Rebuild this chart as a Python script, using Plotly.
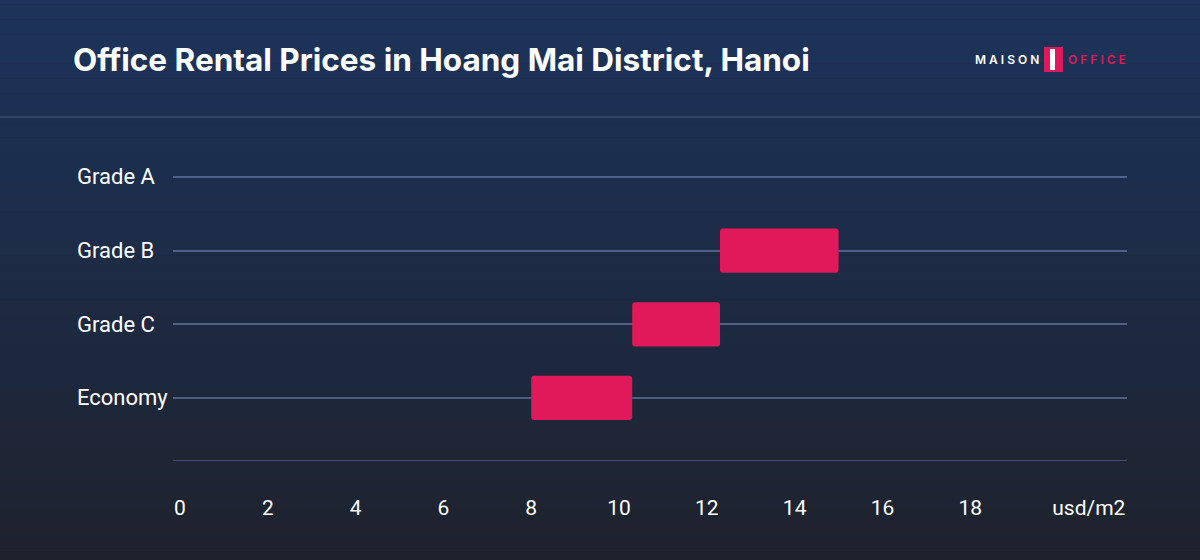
import plotly.graph_objects as go

categories = ["Economy", "Grade C", "Grade B", "Grade A"]
price_low = [8.0, 10.3, 12.3, None]
price_high = [10.3, 12.3, 15.0, None]
tick_vals = [0, 2, 4, 6, 8, 10, 12, 14, 16, 18, 20.7]
tick_text = ["0", "2", "4", "6", "8", "10", "12", "14", "16", "18", "usd/m2"]

W, H = 1200, 560
fig = go.Figure()
fig.add_trace(go.Bar(
    y=categories, base=[l if l is not None else 0 for l in price_low],
    x=[(h - l) if (h is not None and l is not None) else 0 for l, h in zip(price_low, price_high)],
    orientation="h", width=0.6, marker=dict(color="#e0195a", line=dict(width=0)),
    hoverinfo="skip"))

def px(x):
    return (x - 173) / 954.0

def py(y):
    return (461 - y) / 321.0

shapes = []
n = 40
top = (28, 52, 92); bot = (31, 34, 44)
for i in range(n):
    t = i / (n - 1)
    c = tuple(int(top[k] + (bot[k] - top[k]) * t) for k in range(3))
    shapes.append(dict(type="rect", xref="paper", yref="paper", layer="below",
                       x0=-0.3, x1=1.3, y0=py(-10 + (i + 1) * 590 / n), y1=py(-10 + i * 590 / n),
                       fillcolor="rgb(%d,%d,%d)" % c, line=dict(width=0)))
shapes.append(dict(type="line", xref="paper", yref="paper", x0=-0.3, x1=1.3,
                   y0=py(117), y1=py(117), line=dict(color="rgba(120,140,180,0.5)", width=1)))
shapes.append(dict(type="line", xref="paper", yref="y", x0=0, x1=1, y0=-0.855, y1=-0.855,
                   line=dict(color="rgba(120,140,190,0.55)", width=1.5)))
# logo mark
shapes.append(dict(type="rect", xref="paper", yref="paper", x0=px(1044), x1=px(1063),
                   y0=py(72), y1=py(47), fillcolor="#e0195a", line=dict(width=0)))
shapes.append(dict(type="rect", xref="paper", yref="paper", x0=px(1050), x1=px(1055),
                   y0=py(70), y1=py(49), fillcolor="white", line=dict(width=0)))

annotations = [
    dict(text="<b>Office Rental Prices in Hoang Mai District, Hanoi</b>", xref="paper", yref="paper",
         x=px(71), y=py(60), xanchor="left", yanchor="middle", showarrow=False,
         font=dict(family="Inter, sans-serif", size=31.5, color="white")),
    dict(text="M A I S O N", xref="paper", yref="paper", x=px(1041), y=py(60),
         xanchor="right", yanchor="middle", showarrow=False,
         font=dict(family="Inter, sans-serif", size=12, color="white", weight=600)),
    dict(text="O F F I C E", xref="paper", yref="paper", x=px(1066), y=py(60),
         xanchor="left", yanchor="middle", showarrow=False,
         font=dict(family="Inter, sans-serif", size=12, color="#e0195a", weight=600)),
]
for c in categories:
    annotations.append(dict(text=c, xref="paper", yref="y", x=px(75), y=c, xanchor="left",
                            yanchor="middle", showarrow=False,
                            font=dict(family="Roboto, sans-serif", size=22, color="white")))

fig.update_layout(
    width=W, height=H, margin=dict(l=173, r=73, t=140, b=99),
    paper_bgcolor="#1f2a44", plot_bgcolor="rgba(0,0,0,0)", showlegend=False,
    shapes=shapes, barcornerradius=3, annotations=annotations,
    font=dict(family="Roboto, Inter, sans-serif", color="white", size=20),
    xaxis=dict(range=[-0.16, 21.57], tickvals=tick_vals, ticktext=tick_text,
               showgrid=False, zeroline=False, showline=False, ticks="",
               ticklabelstandoff=32, tickfont=dict(size=21, color="white")),
    yaxis=dict(categoryorder="array", categoryarray=categories, range=[-0.855, 3.5],
               showgrid=True, gridcolor="rgba(120,140,190,0.55)", gridwidth=1.5,
               zeroline=False, ticks="", showticklabels=False),
)
fig.write_html("out.html", config={"displayModeBar": False},
               post_script="document.body.style.margin='0';document.body.style.background='#1f2330';")
